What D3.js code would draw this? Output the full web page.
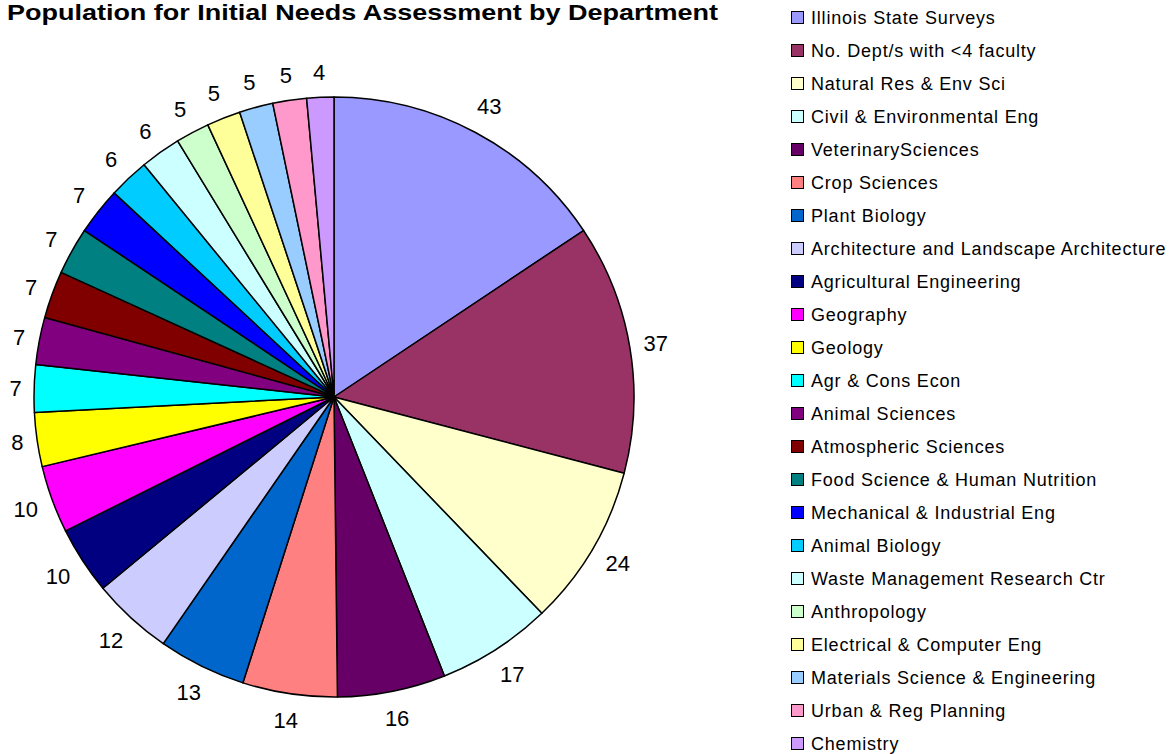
<!DOCTYPE html>
<html>
<head>
    <meta charset="utf-8">
    <title>Population for Initial Needs Assessment by Department</title>
    <script src="https://d3js.org/d3.v7.min.js"></script>
    <style>
        body { margin: 0; background: #fff; }
    </style>
</head>
<body>
<div id="chart"></div>
<script type="text/javascript">
    // data
    let departments = [
        "Illinois State Surveys", "No. Dept/s with <4 faculty", "Natural Res & Env Sci",
        "Civil & Environmental Eng", "VeterinarySciences", "Crop Sciences", "Plant Biology",
        "Architecture and Landscape Architecture", "Agricultural Engineering", "Geography",
        "Geology", "Agr & Cons Econ", "Animal Sciences", "Atmospheric Sciences",
        "Food Science & Human Nutrition", "Mechanical & Industrial Eng", "Animal Biology",
        "Waste Management Research Ctr", "Anthropology", "Electrical & Computer Eng",
        "Materials Science & Engineering", "Urban & Reg Planning", "Chemistry"
    ];
    let counts = [43, 37, 24, 17, 16, 14, 13, 12, 10, 10, 8, 7, 7, 7, 7, 7, 6, 6, 5, 5, 5, 5, 4];
    let colors = [
        "#9999FF", "#993366", "#FFFFCC", "#CCFFFF", "#660066", "#FF8080", "#0066CC",
        "#CCCCFF", "#000080", "#FF00FF", "#FFFF00", "#00FFFF", "#800080", "#800000",
        "#008080", "#0000FF", "#00CCFF", "#CCFFFF", "#CCFFCC", "#FFFF99", "#99CCFF",
        "#FF99CC", "#CC99FF"
    ];

    let width = 1175, height = 754;
    let cx = 334, cy = 397, radius = 300;
    let font = "Liberation Sans, Arial, sans-serif";

    let svg = d3.select("#chart")
        .append("svg")
            .attr("width", width)
            .attr("height", height);

    // titulo
    svg.append("text")
        .attr("x", 7)
        .attr("y", 20)
        .attr("font-family", font)
        .attr("font-weight", "bold")
        .attr("font-size", "22px")
        .attr("textLength", 711)
        .attr("lengthAdjust", "spacingAndGlyphs")
        .text("Population for Initial Needs Assessment by Department");

    let data = departments.map(function(d, i) {
        return {name: d, value: counts[i], color: colors[i]};
    });

    let pie = d3.pie()
        .sort(null)
        .value(function(d) { return d.value; });

    let arc = d3.arc()
        .innerRadius(0)
        .outerRadius(radius);

    let g = svg.append("g")
        .attr("transform", "translate(" + cx + "," + cy + ")");

    let arcs = pie(data);

    g.selectAll("path")
        .data(arcs)
        .enter()
        .append("path")
        .attr("d", arc)
        .attr("fill", function(d) { return d.data.color; })
        .attr("stroke", "#000")
        .attr("stroke-width", 1.5)
        .attr("stroke-linejoin", "round");

    // rotulos fora da pizza: distancia depende do tamanho do texto
    let labels = g.selectAll("text.val")
        .data(arcs)
        .enter()
        .append("text")
        .attr("class", "val")
        .attr("text-anchor", "middle")
        .attr("dy", "0.35em")
        .attr("font-family", font)
        .attr("font-size", "22px")
        .text(function(d) { return d.data.value; });

    labels.each(function(d) {
        let halfW = this.getComputedTextLength() / 2;
        let a = (d.startAngle + d.endAngle) / 2;
        let s = Math.sin(a), c = Math.cos(a);
        let R = radius + 12 + Math.abs(s) * halfW + Math.abs(c) * 13;
        d3.select(this).attr("x", s * R).attr("y", -c * R);
    });

    // legenda
    let legend = svg.append("g")
        .attr("transform", "translate(791,17.5)");

    let items = legend.selectAll("g")
        .data(data)
        .enter()
        .append("g")
        .attr("transform", function(d, i) { return "translate(0," + (i * 33) + ")"; });

    items.append("rect")
        .attr("x", 0.5)
        .attr("y", -6)
        .attr("width", 12)
        .attr("height", 12)
        .attr("fill", function(d) { return d.color; })
        .attr("stroke", "#000")
        .attr("stroke-width", 1);

    items.append("text")
        .attr("x", 20)
        .attr("dy", "0.36em")
        .attr("font-family", font)
        .attr("font-size", "18px")
        .attr("letter-spacing", "0.8px")
        .text(function(d) { return d.name; });
</script>
</body>
</html>
